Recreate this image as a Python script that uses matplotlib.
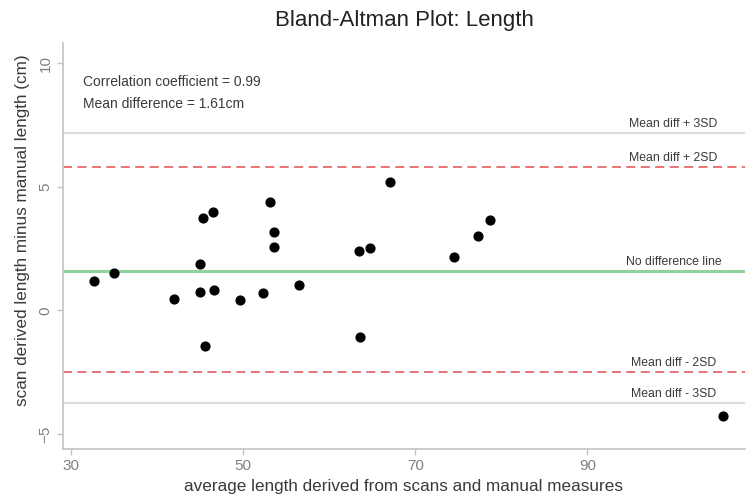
import numpy as np
import matplotlib
matplotlib.use('Agg')
import matplotlib.pyplot as plt

plt.rcParams['font.family'] = ['Liberation Sans', 'DejaVu Sans']

# average of scan and manual length (cm) and their difference (scan - manual)
avg_length = [32.7, 35.05, 41.95, 45.0, 45.0, 46.6, 45.6, 45.4, 46.55, 49.7, 52.35, 53.15,
              53.6, 53.6, 56.5, 63.45, 64.8, 63.55, 67.1, 74.5, 77.3, 78.65, 105.7]
diff_length = [1.19, 1.50, 0.45, 1.88, 0.76, 0.82, -1.42, 3.75, 3.99, 0.44, 0.69, 4.38,
               3.16, 2.57, 1.03, 2.42, 2.53, -1.06, 5.18, 2.15, 3.00, 3.64, -4.26]

mean_diff = 1.61
corr_coef = 0.99
limit_2sd = [5.81, -2.50]
limit_3sd = [7.17, -3.76]

x_ticks = [30, 50, 70, 90]
y_ticks = [-5, 0, 5, 10]

fig = plt.figure(figsize=(7.46, 5.03), dpi=100)
ax = fig.add_axes([0.0845, 0.1074, 0.914, 0.8071])

ax.set_xlim(29.09, 108.3)
ax.set_ylim(-5.60, 10.81)

axis_grey = '#c4c4c4'
text_grey = '#3a3a3a'

# reference lines
for y in limit_3sd:
    ax.axhline(y, color='#dedede', lw=1.6, zorder=1)
for y in limit_2sd:
    ax.axhline(y, color='#e36a6a', lw=1.3, ls=(0, (5, 3)), zorder=1)
ax.axhline(mean_diff, color='#8ed49c', lw=2.2, zorder=1)

ax.scatter(avg_length, diff_length, s=40, c='black', zorder=3)

# line labels
label_x = 100
label_kw = dict(ha='center', va='bottom', fontsize=8.8, color=text_grey)
ax.text(label_x, limit_3sd[0] + 0.12, 'Mean diff + 3SD', **label_kw)
ax.text(label_x, limit_2sd[0] + 0.12, 'Mean diff + 2SD', **label_kw)
ax.text(label_x, mean_diff + 0.12, 'No difference line', **label_kw)
ax.text(label_x, limit_2sd[1] + 0.12, 'Mean diff - 2SD', **label_kw)
ax.text(label_x, limit_3sd[1] + 0.12, 'Mean diff - 3SD', **label_kw)

ax.text(31.4, 9.25, f'Correlation coefficient = {corr_coef}', fontsize=10, color=text_grey,
        va='center', ha='left')
ax.text(31.4, 8.35, f'Mean difference = {mean_diff}cm', fontsize=10, color=text_grey,
        va='center', ha='left')

for side in ['top', 'right']:
    ax.spines[side].set_visible(False)
for side in ['left', 'bottom']:
    ax.spines[side].set_color(axis_grey)
    ax.spines[side].set_linewidth(1.2)

ax.set_xticks(x_ticks)
ax.set_yticks(y_ticks)
ax.tick_params(colors=axis_grey, length=4, width=1, labelcolor='#808080', labelsize=11)
plt.setp(ax.get_yticklabels(), rotation=90, va='center')

ax.set_xlabel('average length derived from scans and manual measures', fontsize=12.3,
              color=text_grey, labelpad=4)
ax.set_ylabel('scan derived length minus manual length (cm)', fontsize=12.3,
              color=text_grey)
ax.yaxis.set_label_coords(-0.048, 0.54)
ax.set_title('Bland-Altman Plot: Length', fontsize=16, color='#222222', pad=12)

fig.savefig('out.png', dpi=100)
